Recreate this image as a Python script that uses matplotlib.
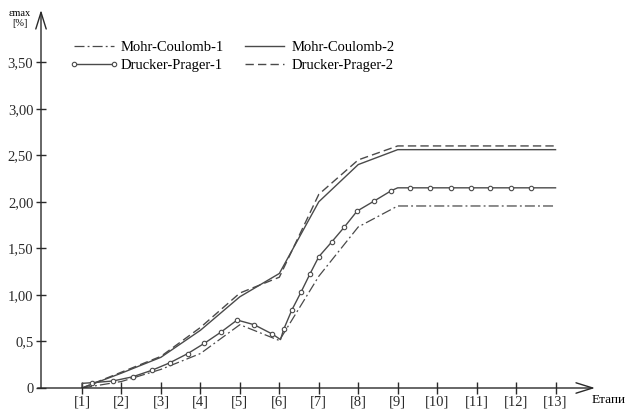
import matplotlib
matplotlib.use("Agg")
import matplotlib.pyplot as plt
from matplotlib.lines import Line2D

plt.rcParams["font.family"] = ["Liberation Serif", "DejaVu Serif"]

# data (stage number -> eps_max in %)
stages = list(range(1, 14))
stage_labels = [f"[{s}]" for s in stages]

mohr_coulomb_1 = [0.0, 0.07, 0.20, 0.37, 0.68, 0.51, 1.20, 1.73, 1.955,
                  1.955, 1.955, 1.955, 1.955]
mohr_coulomb_2 = [0.0, 0.16, 0.33, 0.62, 0.98, 1.23, 2.00, 2.40, 2.56,
                  2.56, 2.56, 2.56, 2.56]
drucker_prager_2 = [0.0, 0.17, 0.34, 0.65, 1.02, 1.19, 2.08, 2.45, 2.60,
                    2.60, 2.60, 2.60, 2.60]

# Drucker-Prager-1 is drawn with its own (denser) vertices
dp1_stage = [1.0, 1.0, 1.25, 1.78, 2.28, 2.77, 3.22, 3.68, 4.10, 4.52, 4.93,
             5.36, 5.82, 6.03, 6.11, 6.32, 6.55, 6.77, 7.00, 7.33, 7.65, 7.97,
             8.41, 8.84, 9.0, 9.31, 9.83, 10.36, 10.85, 11.35, 11.86, 12.37,
             13.0]
dp1_value = [0.0, 0.05, 0.057, 0.075, 0.12, 0.19, 0.27, 0.37, 0.48, 0.60, 0.73,
             0.68, 0.58, 0.52, 0.63, 0.84, 1.03, 1.22, 1.41, 1.57, 1.73, 1.90,
             2.01, 2.12, 2.15, 2.15, 2.15, 2.15, 2.15, 2.15, 2.15, 2.15,
             2.15]
dp1_marked = [2, 3, 4, 5, 6, 7, 8, 9, 10, 11, 12, 14, 15, 16, 17, 18, 19, 20,
              21, 22, 23, 25, 26, 27, 28, 29, 30, 31]

y_ticks = [0, 0.5, 1.0, 1.5, 2.0, 2.5, 3.0, 3.5]
y_tick_labels = ["0", "0,5", "1,00", "1,50", "2,00", "2,50", "3,00", "3,50"]

W, H = 629, 409
AXIS = "#2a2a2a"
LINE = "#4a4a4a"

fig = plt.figure(figsize=(W / 100, H / 100), dpi=100)
ax = fig.add_axes([41 / W, 1 - 388 / H, (595 - 41) / W, (388 - 10) / H])
ax.set_xlim(-0.04, 14.0)
ax.set_ylim(0, 4.06)

for s in ax.spines.values():
    s.set_visible(False)

arrow = dict(arrowstyle="->,head_length=0.8,head_width=0.25", lw=1.0,
             color=AXIS, shrinkA=0, shrinkB=0, mutation_scale=15)
ax.annotate("", xy=(1, 0), xytext=(-0.006, 0), xycoords="axes fraction",
            arrowprops=arrow, annotation_clip=False)
ax.annotate("", xy=(0, 1), xytext=(0, 0), xycoords="axes fraction",
            arrowprops=arrow, annotation_clip=False)

ax.set_xticks(stages)
ax.set_xticklabels(stage_labels)
ax.set_yticks(y_ticks)
ax.set_yticklabels(y_tick_labels)
ax.tick_params(axis="x", direction="inout", length=9, width=1.0,
               colors=AXIS, labelsize=10.5, pad=1)
ax.tick_params(axis="y", direction="inout", length=7, width=1.0,
               colors=AXIS, labelsize=10.5, pad=2)

mc1_style = dict(color=LINE, lw=0.9, ls=(0, (8, 2.5, 1.5, 2.5)))
mc2_style = dict(color=LINE, lw=1.0, ls="-")
dp1_style = dict(color=LINE, lw=1.0, ls="-", marker="o", markersize=3.2,
                 markerfacecolor="white", markeredgecolor=LINE,
                 markeredgewidth=0.8)
dp2_style = dict(color=LINE, lw=1.0, ls=(0, (6, 3)))

ax.plot(stages, mohr_coulomb_1, **mc1_style)
ax.plot(stages, mohr_coulomb_2, **mc2_style)
ax.plot(dp1_stage, dp1_value, markevery=dp1_marked, **dp1_style)
ax.plot(stages, drucker_prager_2, **dp2_style)

handles = [Line2D([], [], **mc1_style), Line2D([], [], **dp1_style),
           Line2D([], [], **mc2_style), Line2D([], [], **dp2_style)]
labels = ["Mohr-Coulomb-1", "Drucker-Prager-1",
          "Mohr-Coulomb-2", "Drucker-Prager-2"]
fig.legend(handles, labels, ncol=2, loc="upper left",
           bbox_to_anchor=(70 / W, 1 - 41 / H), frameon=False,
           fontsize=10.5, handlelength=3.3, handletextpad=0.2,
           columnspacing=1.1, labelspacing=0.3, borderpad=0,
           borderaxespad=0, numpoints=2)

fig.text(9 / W, 1 - 13 / H, "εmax", fontsize=7.5, va="center", ha="left")
fig.text(12 / W, 1 - 23 / H, "[%]", fontsize=7.5, va="center", ha="left")
fig.text(592 / W, 1 - 400 / H, "Етапи", fontsize=9.5, va="center",
         ha="left")

fig.savefig("out.png", dpi=100)
